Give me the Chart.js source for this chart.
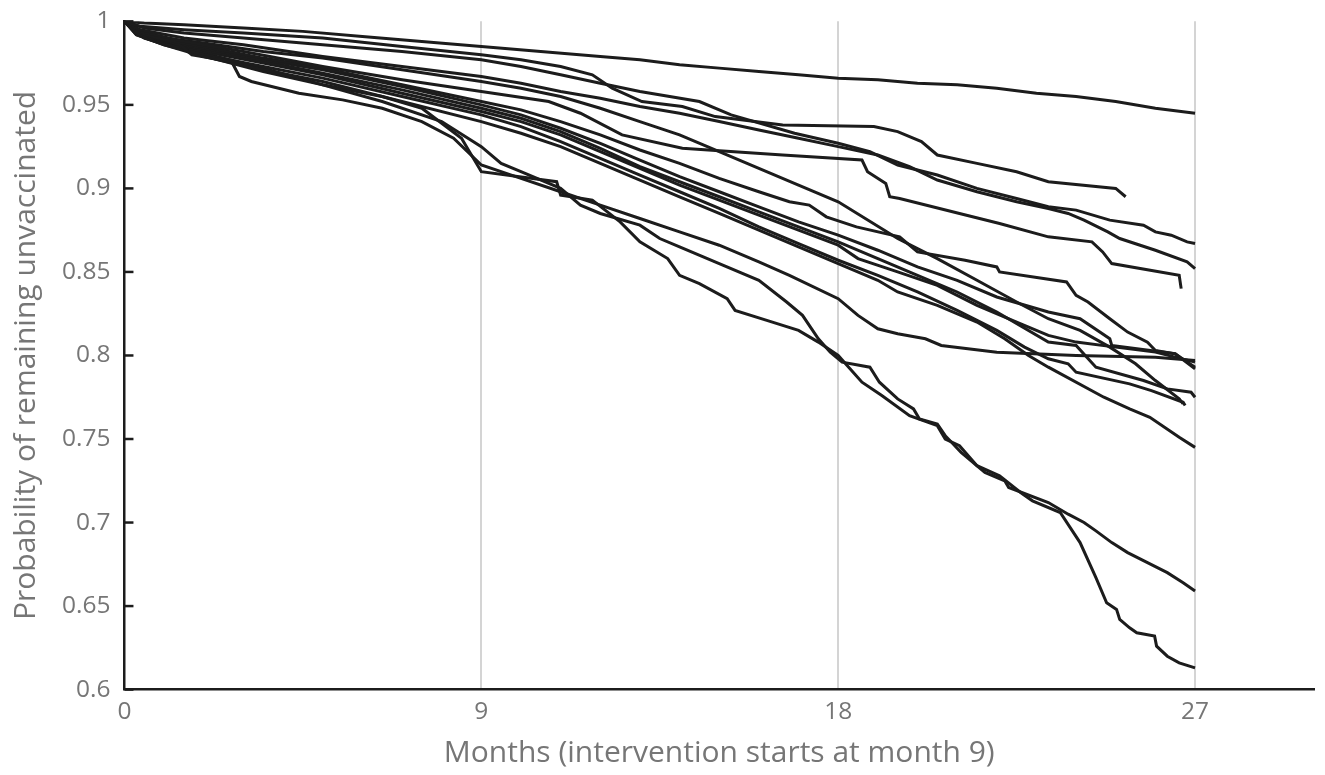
<!DOCTYPE html>
<html lang="en">
<head>
    <meta charset="UTF-8">
    <title>Probability of remaining unvaccinated</title>
    <script src="https://cdn.jsdelivr.net/npm/chart.js@4.4.1/dist/chart.umd.min.js"></script>
    <style>
        body { margin: 0; background: #fff; font-family: 'Open Sans', sans-serif; }
        #wrap { width: 1325px; height: 775px; }
    </style>
</head>
<body>
    <div id="wrap"><canvas id="survivalChart"></canvas></div>

    <script>
        // axis ticks
        const xTicks = [0, 9, 18, 27];
        const yTicks = [0.6, 0.65, 0.7, 0.75, 0.8, 0.85, 0.9, 0.95, 1];

        // curves: [month, probability]
        const curveA = [[0,1],[0.5,0.999],[1.5,0.998],[3,0.996],[4.5,0.994],[6,0.991],[7.5,0.988],[9,0.985],[10.5,0.982],[12,0.979],[13,0.977],[14,0.974],[15,0.972],[16,0.97],[17,0.968],[18,0.966],[19,0.965],[20,0.963],[21,0.962],[22,0.96],[23,0.957],[24,0.955],[25,0.952],[26,0.948],[27,0.945]];
        const curveB = [[0,1],[0.4,0.997],[1.5,0.995],[3,0.993],[5,0.99],[7,0.985],[9,0.98],[10,0.977],[11,0.973],[11.8,0.968],[12.3,0.96],[13.05,0.952],[14.07,0.949],[14.9,0.943],[16.6,0.938],[18.9,0.937],[19.5,0.934],[20.1,0.928],[20.5,0.92],[21.5,0.915],[22.5,0.91],[23.3,0.904],[25,0.9],[25.25,0.895]];
        const curveC = [[0,1],[0.5,0.996],[1.5,0.993],[3,0.99],[5,0.986],[7,0.982],[9,0.977],[10,0.973],[11,0.968],[12,0.963],[13,0.958],[14.5,0.952],[15.3,0.944],[16.9,0.933],[18,0.927],[18.8,0.922],[19.5,0.914],[20.5,0.908],[21.5,0.9],[22.5,0.894],[23.3,0.889],[24,0.887],[24.85,0.881],[25.7,0.878],[26,0.874],[26.4,0.872],[26.8,0.868],[27,0.867]];
        const curveD = [[0,1],[0.4,0.995],[1.5,0.99],[3,0.986],[5,0.979],[7,0.973],[9,0.967],[10,0.963],[11,0.958],[12,0.954],[13,0.949],[14,0.945],[15,0.94],[16,0.935],[17,0.93],[18,0.925],[19,0.92],[19.8,0.913],[20.5,0.905],[21.5,0.898],[22.5,0.892],[23.3,0.888],[23.8,0.885],[24.2,0.881],[24.8,0.874],[25.1,0.87],[26,0.863],[26.8,0.856],[27,0.852]];
        const curveE = [[0,1],[0.4,0.994],[1.5,0.988],[3,0.982],[5,0.973],[7,0.965],[9,0.958],[10.7,0.952],[11.5,0.945],[12.55,0.932],[14.07,0.924],[16.6,0.92],[18.6,0.917],[18.74,0.91],[19.2,0.903],[19.3,0.895],[19.55,0.894],[21.06,0.885],[22.07,0.879],[23.3,0.871],[24.4,0.868],[24.67,0.862],[24.9,0.855],[26.6,0.848],[26.65,0.84]];
        const curveF = [[0,1],[0.3,0.994],[1,0.989],[2,0.985],[3.5,0.978],[5,0.972],[7,0.962],[9,0.952],[10,0.947],[11,0.94],[12,0.932],[13,0.923],[14,0.915],[15,0.906],[16,0.898],[16.77,0.892],[17.27,0.89],[17.7,0.883],[18.46,0.877],[19.55,0.871],[20,0.862],[21.2,0.857],[22,0.853],[22.07,0.85],[23.76,0.844],[24,0.836],[24.3,0.832],[24.85,0.822],[25.3,0.814],[25.8,0.808],[26,0.803],[26.5,0.801],[27,0.793]];
        const curveG = [[0,1],[0.5,0.992],[1.4,0.986],[1.7,0.98],[2.7,0.976],[2.9,0.967],[3.2,0.964],[4.4,0.957],[5.5,0.953],[6.5,0.948],[7.5,0.94],[8.3,0.93],[9,0.914],[10,0.906],[11,0.898],[12,0.89],[13,0.882],[14,0.874],[15,0.866],[16,0.856],[16.77,0.848],[18,0.834],[18.5,0.824],[19,0.816],[19.5,0.813],[20.2,0.81],[20.6,0.806],[22,0.802],[24,0.8],[26,0.799],[27,0.797]];
        const curveH = [[0,1],[0.3,0.993],[1,0.988],[2,0.984],[3.5,0.977],[5,0.971],[7,0.961],[9,0.95],[10,0.944],[11,0.936],[12,0.927],[13,0.917],[14,0.907],[15,0.898],[16,0.889],[17,0.88],[18,0.872],[19,0.863],[20,0.853],[21,0.845],[22,0.835],[23.3,0.826],[24.1,0.822],[24.85,0.81],[24.9,0.806],[26.5,0.801],[27,0.792]];
        const curveI = [[0,1],[0.3,0.994],[1,0.988],[2,0.983],[3.5,0.976],[5,0.969],[7,0.959],[9,0.948],[10,0.942],[11,0.934],[12,0.924],[13,0.913],[14,0.904],[15,0.895],[16,0.886],[17,0.877],[18,0.868],[19,0.858],[20,0.848],[21,0.838],[22,0.826],[23.3,0.808],[24,0.806],[24.5,0.793],[25.7,0.785],[26.3,0.78],[26.9,0.778],[27,0.775]];
        const curveJ = [[0,1],[0.3,0.993],[1,0.987],[2,0.982],[3.5,0.975],[5,0.968],[7,0.957],[9,0.946],[10,0.94],[11,0.932],[12,0.922],[13,0.912],[14,0.902],[15,0.893],[16,0.884],[17,0.875],[18,0.866],[18.5,0.858],[19.5,0.85],[20.5,0.842],[21.5,0.83],[22.5,0.82],[23.3,0.812],[24,0.808],[25,0.805],[26,0.802],[27,0.796]];
        const curveK = [[0,1],[0.3,0.992],[1,0.986],[2,0.98],[3.5,0.973],[5,0.966],[7,0.955],[9,0.944],[10,0.937],[11,0.928],[12,0.918],[13,0.908],[14,0.898],[15,0.888],[16,0.877],[17,0.867],[18,0.857],[19,0.848],[20,0.838],[21,0.827],[22,0.815],[22.7,0.805],[23.3,0.798],[23.8,0.795],[24,0.79],[25.35,0.783],[25.9,0.779],[26.7,0.772],[26.75,0.77]];
        const curveL = [[0,1],[0.3,0.995],[1,0.99],[2,0.987],[3.5,0.982],[5,0.978],[7,0.971],[9,0.964],[10,0.96],[11,0.955],[12,0.948],[13,0.94],[14,0.932],[15,0.922],[16,0.912],[17,0.902],[18,0.892],[19.5,0.87],[20.5,0.858],[21.5,0.845],[22.5,0.832],[23.3,0.822],[24.1,0.815],[24.85,0.805],[25.5,0.795],[26,0.785],[26.6,0.774],[26.7,0.771]];
        const curveM = [[0,1],[0.3,0.992],[1,0.986],[2,0.979],[3.5,0.971],[5,0.964],[7,0.952],[9,0.94],[10,0.933],[11,0.925],[12,0.915],[13,0.905],[14,0.895],[15,0.885],[16,0.875],[17,0.865],[18,0.855],[19,0.845],[19.5,0.838],[20.5,0.83],[21.5,0.82],[22.2,0.81],[22.8,0.8],[23.3,0.793],[24.7,0.775],[25.35,0.768],[25.86,0.763],[26.6,0.751],[27,0.745]];
        const curveN = [[0,1],[0.3,0.993],[1,0.987],[2,0.981],[3.5,0.972],[5,0.962],[6.5,0.952],[8,0.94],[9,0.925],[9.5,0.915],[10,0.91],[11,0.9],[11.5,0.89],[12,0.885],[13,0.878],[13.5,0.87],[14,0.865],[15,0.855],[16,0.845],[16.7,0.832],[17.1,0.824],[17.5,0.81],[17.8,0.802],[18.1,0.796],[18.8,0.793],[19.04,0.784],[19.5,0.774],[19.9,0.768],[20.05,0.762],[20.5,0.759],[20.7,0.752],[21.1,0.742],[21.7,0.73],[22.2,0.725],[22.3,0.721],[23.3,0.712],[23.8,0.705],[24.2,0.7],[24.5,0.695],[24.9,0.688],[25.3,0.682],[25.8,0.676],[26.3,0.67],[26.7,0.664],[27,0.659]];
        const curveO = [[0,1],[0.5,0.99],[1.2,0.985],[2.2,0.978],[3.5,0.97],[5,0.962],[6.5,0.955],[7.5,0.948],[8.5,0.93],[9,0.91],[10.9,0.904],[11,0.896],[11.8,0.893],[12.5,0.88],[13,0.868],[13.7,0.858],[14,0.848],[14.5,0.843],[15.2,0.834],[15.4,0.827],[16.2,0.821],[17,0.815],[17.5,0.808],[18,0.8],[18.6,0.784],[19.1,0.776],[19.8,0.764],[20.5,0.758],[20.7,0.75],[21.06,0.746],[21.5,0.734],[22.07,0.728],[22.6,0.718],[22.9,0.713],[23.6,0.706],[24.1,0.688],[24.5,0.667],[24.77,0.652],[25.02,0.648],[25.1,0.642],[25.35,0.637],[25.53,0.634],[25.98,0.632],[26.03,0.626],[26.3,0.62],[26.6,0.616],[27,0.613]];

        const curves = [curveA, curveB, curveC, curveD, curveE, curveF, curveG, curveH,
                        curveI, curveJ, curveK, curveL, curveM, curveN, curveO];

        const grey = '#767676';
        const ink = '#1c1c1c';

        // small tick marks pointing into the plot on the y axis
        const innerTicks = {
            id: 'innerTicks',
            afterDraw(chart) {
                const y = chart.scales.y;
                const ctx = chart.ctx;
                ctx.save();
                ctx.strokeStyle = ink;
                ctx.lineWidth = 2.5;
                yTicks.forEach(v => {
                    const py = y.getPixelForValue(v);
                    ctx.beginPath();
                    ctx.moveTo(chart.chartArea.left, py);
                    ctx.lineTo(chart.chartArea.left + 9, py);
                    ctx.stroke();
                });
                ctx.restore();
            }
        };

        new Chart(document.getElementById('survivalChart'), {
            type: 'line',
            data: {
                datasets: curves.map(c => ({
                    data: c.map(p => ({ x: p[0], y: p[1] })),
                    borderColor: ink,
                    borderWidth: 3,
                    pointRadius: 0,
                    tension: 0,
                    fill: false
                }))
            },
            options: {
                responsive: true,
                maintainAspectRatio: false,
                animation: false,
                layout: { padding: { top: 0, right: 11, left: 4, bottom: 0 } },
                plugins: {
                    legend: { display: false },
                    tooltip: { enabled: false }
                },
                scales: {
                    x: {
                        type: 'linear',
                        min: 0,
                        max: 30,
                        afterBuildTicks: s => { s.ticks = xTicks.map(v => ({ value: v })); },
                        grid: {
                            color: c => (c.tick && c.tick.value === 0) ? 'rgba(0,0,0,0)' : '#d4d4d4',
                            lineWidth: 2,
                            drawTicks: false
                        },
                        border: { color: ink, width: 2.5 },
                        ticks: { color: grey, font: { family: 'Open Sans', size: 24.5 }, padding: 8 },
                        title: {
                            display: true,
                            text: 'Months (intervention starts at month 9)',
                            color: grey,
                            font: { family: 'Open Sans', size: 30 },
                            padding: { top: 0 }
                        }
                    },
                    y: {
                        type: 'linear',
                        min: 0.6,
                        max: 1,
                        afterBuildTicks: s => { s.ticks = yTicks.map(v => ({ value: v })); },
                        grid: { drawOnChartArea: false, drawTicks: false },
                        border: { color: ink, width: 2.5 },
                        ticks: {
                            color: grey,
                            font: { family: 'Open Sans', size: 24.5, lineHeight: 0.6 },
                            padding: 14,
                            callback: v => String(+v.toFixed(2))
                        },
                        title: {
                            display: true,
                            text: 'Probability of remaining unvaccinated',
                            color: grey,
                            font: { family: 'Open Sans', size: 30 },
                            padding: { bottom: 4 }
                        }
                    }
                }
            },
            plugins: [innerTicks]
        });
    </script>
</body>
</html>
